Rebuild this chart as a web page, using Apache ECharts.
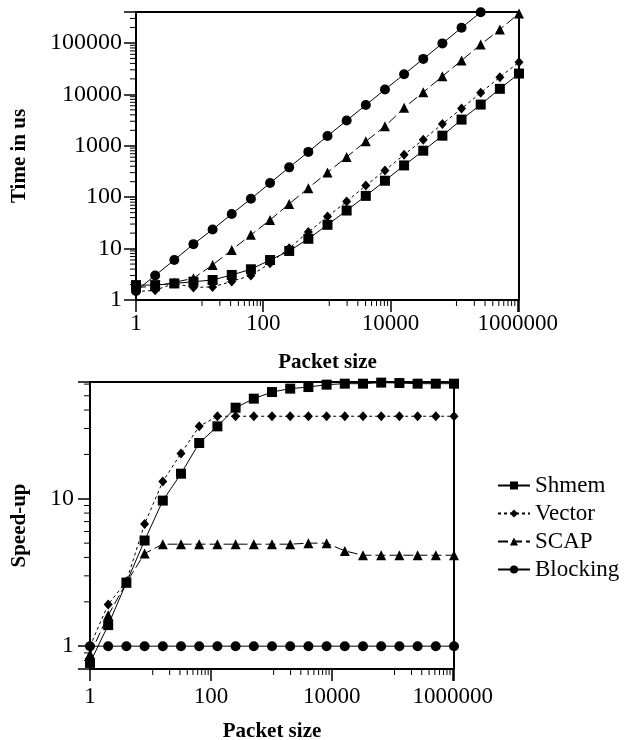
<!DOCTYPE html>
<html><head><meta charset="utf-8">
<script src="https://cdn.jsdelivr.net/npm/echarts@6/dist/echarts.min.js"></script>
<style>html,body{margin:0;padding:0;background:#fff}#c{width:628px;height:740px}</style>
</head><body><div id="c"></div>
<script>
// ---- data ----
const packetSizes = [1, 2, 4, 8, 16, 32, 64, 128, 256, 512, 1024, 2048, 4096, 8192, 16384, 32768, 65536, 131072, 262144, 524288, 1048576];
const seriesNames = ['Shmem', 'Vector', 'SCAP', 'Blocking'];

// Time in us (top panel)
const timeShmem    = [1.95, 1.95, 2.1, 2.27, 2.45, 3.07, 3.96, 6.0, 9.0, 15.5, 29, 55, 106, 209, 415, 802, 1573, 3230, 6330, 12800, 25400];
const timeVector   = [1.45, 1.55, 2.1, 1.75, 1.8, 2.3, 3.0, 5.2, 10.2, 21, 42, 82, 169, 331, 670, 1315, 2660, 5290, 10700, 21600, 42300];
const timeSCAP     = [1.75, 1.85, 2.2, 2.65, 4.8, 9.4, 18.5, 36, 74, 150, 303, 605, 1218, 2390, 5460, 11000, 22500, 45600, 93000, 183000, 376000];
const timeBlocking = [1.5, 3.0, 6.0, 12.2, 23.5, 47, 93, 188, 380, 760, 1550, 3100, 6200, 12400, 24600, 49000, 98000, 198000, 396000];

// Speed-up (bottom panel)
const speedShmem    = [0.77, 1.39, 2.70, 5.21, 9.72, 14.8, 23.9, 31.0, 41.5, 47.8, 53.0, 55.9, 57.3, 59.5, 60.4, 60.4, 61.4, 61.0, 60.4, 60.4, 60.4];
const speedVector   = [1.0, 1.92, 2.75, 6.75, 13.1, 20.3, 31.0, 36.3, 36.3, 36.3, 36.3, 36.3, 36.3, 36.3, 36.3, 36.3, 36.3, 36.3, 36.3, 36.3, 36.3];
const speedSCAP     = [0.88, 1.62, 2.7, 4.25, 4.92, 4.92, 4.92, 4.92, 4.92, 4.92, 4.92, 4.92, 5.0, 5.0, 4.43, 4.14, 4.14, 4.14, 4.14, 4.14, 4.14];
const speedBlocking = [1, 1, 1, 1, 1, 1, 1, 1, 1, 1, 1, 1, 1, 1, 1, 1, 1, 1, 1, 1, 1];

// tick labels shown
const xTickLabels = ['1', '100', '10000', '1000000'];
const yTimeTickLabels = ['1', '10', '100', '1000', '10000', '100000'];
const ySpeedTickLabels = ['1', '10'];

// minor tick values
const xMinorTicks = [10.9, 20.8, 30.7, 40.6, 50.5, 60.4, 70.3, 80.2, 90.1,
  1090, 2080, 3070, 4060, 5050, 6040, 7030, 8020, 9010,
  109000, 208000, 307000, 406000, 505000, 604000, 703000, 802000, 901000];
const yTimeMinorTicks = [2, 3, 4, 5, 6, 7, 8, 9, 20, 30, 40, 50, 60, 70, 80, 90,
  200, 300, 400, 500, 600, 700, 800, 900, 2000, 3000, 4000, 5000, 6000, 7000, 8000, 9000,
  20000, 30000, 40000, 50000, 60000, 70000, 80000, 90000, 200000, 300000];
const ySpeedMinorTicks = [0.8, 0.9, 2, 3, 4, 5, 6, 7, 8, 9, 20, 30, 40, 50, 60];

// ---- chart ----
const FONT = 'Liberation Serif, Times New Roman, serif';
const X_MIN = 1, X_MAX = 1048576;
const YT_MIN = 1, YT_MAX = 400000;
const YS_MIN = 0.7, YS_MAX = 62;

function labelFrom(list) {
  return function (v) {
    for (const s of list) { if (Math.abs(v - Number(s)) < 1e-6 * Number(s)) return s; }
    return '';
  };
}
function pairs(ys) { return ys.map((y, i) => [packetSizes[i], y]); }

const styles = {
  Shmem:    { symbol: 'rect',     size: 10, line: 'solid' },
  Vector:   { symbol: 'diamond',  size: [9, 10], line: [3, 3] },
  SCAP:     { symbol: 'triangle', size: 10, line: [10, 4] },
  Blocking: { symbol: 'circle',   size: 10, line: 'solid' }
};
function mkSeries(name, ys, idx) {
  const s = styles[name];
  return {
    name: name, type: 'line', xAxisIndex: idx, yAxisIndex: idx,
    data: pairs(ys), symbol: s.symbol, symbolSize: s.size, showSymbol: true,
    lineStyle: { color: '#000', width: 1, type: s.line },
    itemStyle: { color: '#000', borderWidth: 0 },
    emphasis: { disabled: true }, animation: false, clip: true
  };
}
// minor ticks drawn through the axis scales
function minorTickSeries(idx, values, dir, otherMin) {
  return {
    type: 'custom', name: '_minor' + dir + idx, xAxisIndex: idx, yAxisIndex: idx,
    silent: true, animation: false, clip: false, z: 5,
    data: values.map(v => dir === 'x' ? [v, otherMin] : [otherMin, v]),
    encode: { x: 0, y: 1 },
    renderItem: function (params, api) {
      const p = api.coord([api.value(0), api.value(1)]);
      const L = 6;
      const shape = dir === 'x'
        ? { x1: p[0], y1: p[1], x2: p[0], y2: p[1] + L }
        : { x1: p[0], y1: p[1], x2: p[0] - L, y2: p[1] };
      return { type: 'line', shape: shape, style: { stroke: '#000', lineWidth: 1 } };
    }
  };
}
function logAxis(o) {
  return Object.assign({
    type: 'log',
    axisLine: { show: true, onZero: false, lineStyle: { color: '#000', width: 2 } },
    axisTick: { show: true, length: 12, lineStyle: { color: '#000', width: 1.5 } },
    minorTick: { show: false },
    splitLine: { show: false }, minorSplitLine: { show: false },
    nameLocation: 'middle',
    nameTextStyle: { color: '#000', fontFamily: FONT, fontSize: 21, fontWeight: 'bold' }
  }, o);
}
const lbl = (list, margin, size) => ({ color: '#000', fontFamily: FONT, fontSize: size, margin: margin, formatter: labelFrom(list), showMinLabel: true, showMaxLabel: true, hideOverlap: false });

const option = {
  backgroundColor: '#fff',
  animation: false,
  grid: [
    { left: 136, top: 12, width: 383, height: 288, show: true, borderColor: '#000', borderWidth: 2, backgroundColor: 'transparent', containLabel: false, outerBoundsMode: 'none' },
    { left: 90, top: 382, width: 364, height: 287, show: true, borderColor: '#000', borderWidth: 2, backgroundColor: 'transparent', containLabel: false, outerBoundsMode: 'none' }
  ],
  legend: {
    orient: 'vertical', left: 492, top: 469, itemWidth: 32, itemHeight: 10, itemGap: 5,
    data: seriesNames, selectedMode: false,
    textStyle: { color: '#000', fontFamily: FONT, fontSize: 23 }
  },
  xAxis: [
    logAxis({ gridIndex: 0, logBase: 100, min: X_MIN, max: X_MAX, name: 'Packet size', nameGap: 52,
      axisLabel: lbl(xTickLabels, 12, 23) }),
    logAxis({ gridIndex: 1, logBase: 100, min: X_MIN, max: X_MAX, name: 'Packet size', nameGap: 52,
      axisLabel: lbl(xTickLabels, 16, 23) })
  ],
  yAxis: [
    logAxis({ gridIndex: 0, logBase: 10, min: YT_MIN, max: YT_MAX, name: 'Time in us', nameGap: 106,
      axisLabel: lbl(yTimeTickLabels, 14, 24) }),
    logAxis({ gridIndex: 1, logBase: 10, min: YS_MIN, max: YS_MAX, name: 'Speed-up', nameGap: 60,
      axisLabel: lbl(ySpeedTickLabels, 16, 24) })
  ],
  series: [
    mkSeries('Shmem', timeShmem, 0),
    mkSeries('Vector', timeVector, 0),
    mkSeries('SCAP', timeSCAP, 0),
    mkSeries('Blocking', timeBlocking, 0),
    mkSeries('Shmem', speedShmem, 1),
    mkSeries('Vector', speedVector, 1),
    mkSeries('SCAP', speedSCAP, 1),
    mkSeries('Blocking', speedBlocking, 1),
    minorTickSeries(0, xMinorTicks, 'x', YT_MIN),
    minorTickSeries(0, yTimeMinorTicks, 'y', X_MIN),
    minorTickSeries(1, xMinorTicks, 'x', YS_MIN),
    minorTickSeries(1, ySpeedMinorTicks, 'y', X_MIN)
  ]
};
const chart = echarts.init(document.getElementById('c'), null, { renderer: 'canvas' });
chart.setOption(option);
</script>
</body></html>
